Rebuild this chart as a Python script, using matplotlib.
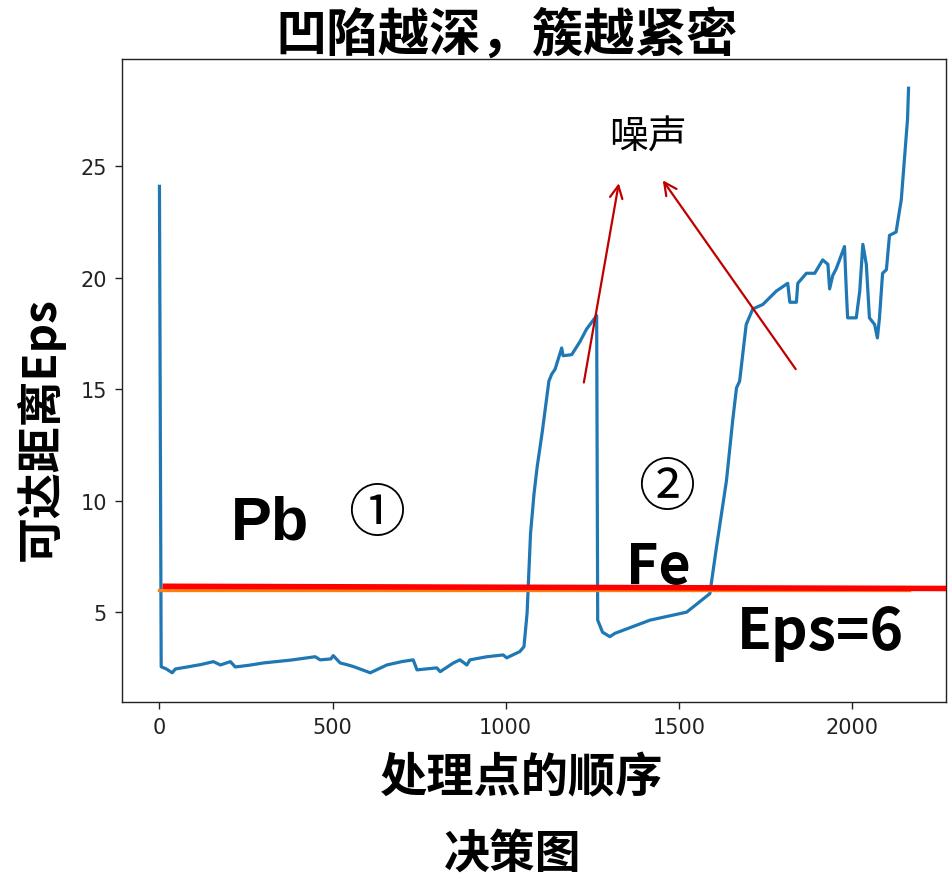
import matplotlib
matplotlib.use("Agg")
import matplotlib.pyplot as plt

plt.rcParams['font.family'] = ['Noto Sans CJK SC', 'DejaVu Sans']

# OPTICS reachability plot: processing order vs reachability distance
order = [0, 5, 20, 37, 46, 80, 120, 156, 176, 205, 219, 260, 300, 380, 450, 464,
         495, 502, 522, 540, 560, 609, 657, 700, 733, 744, 801, 811, 849, 868, 888,
         897, 946, 993, 1003, 1041, 1053, 1062, 1072, 1082, 1091, 1106, 1125, 1133,
         1143, 1162, 1166, 1191, 1215, 1234, 1263, 1266, 1280, 1301, 1316, 1417,
         1523, 1590, 1609, 1638, 1656, 1667, 1676, 1695, 1714, 1743, 1782, 1815,
         1821, 1840, 1844, 1869, 1893, 1916, 1931, 1936, 1945, 1955, 1979, 1984,
         1988, 2013, 2023, 2032, 2042, 2051, 2066, 2074, 2080, 2089, 2100, 2109,
         2128, 2143, 2152, 2161, 2164]
reach = [24.1, 2.55, 2.45, 2.28, 2.45, 2.54, 2.65, 2.78, 2.63, 2.78, 2.54, 2.62,
         2.72, 2.85, 3.0, 2.86, 2.9, 3.05, 2.72, 2.65, 2.56, 2.28, 2.63, 2.78, 2.86,
         2.41, 2.5, 2.33, 2.72, 2.86, 2.63, 2.86, 3.0, 3.08, 2.95, 3.23, 3.45, 4.95,
         8.53, 10.3, 11.5, 13.1, 15.36, 15.67, 15.9, 16.85, 16.5, 16.55, 17.14, 17.7,
         18.3, 4.64, 4.1, 3.9, 4.05, 4.64, 5.0, 5.83, 7.9, 10.9, 13.6, 15.06, 15.36,
         17.9, 18.6, 18.8, 19.4, 19.75, 18.9, 18.9, 19.75, 20.2, 20.2, 20.8, 20.6,
         19.5, 20.1, 20.4, 21.4, 19.5, 18.2, 18.2, 19.4, 21.5, 20.6, 18.2, 17.9, 17.3,
         18.2, 20.2, 20.36, 21.9, 22.05, 23.5, 25.3, 27.1, 28.5]

eps = 6
eps_marker_x = [9, 2290]
eps_marker_y = [6.16, 6.06]

# noise arrows: (tail_x, tail_y, head_x, head_y)
noise_arrows = [(1226, 15.3, 1327, 24.24),
                (1838, 15.9, 1454, 24.37)]

xticks = [0, 500, 1000, 1500, 2000]
yticks = [5, 10, 15, 20, 25]

W, H = 948, 878
fig = plt.figure(figsize=(W / 100, H / 100), dpi=100)
ax = fig.add_axes([122 / W, 1 - 703 / H, (946 - 122) / W, (703 - 60) / H])


def fx(px):
    return px / W


def fy(py):
    return 1 - py / H


ax.plot(order, reach, color='#1f77b4', lw=2.3, zorder=3)
ax.plot([order[0], order[-1]], [eps, eps], color='#ff7f0e', lw=2.4, zorder=3)

xr = max(order) - min(order)
yr = max(reach) - min(reach)
ax.set_xlim(min(order) - 0.05 * xr, max(order) + 0.05 * xr)
ax.set_ylim(min(reach) - 0.05 * yr, max(reach) + 0.05 * yr)

ax.plot(eps_marker_x, eps_marker_y, color='#ff0000', lw=4.0, zorder=5,
        solid_capstyle='butt')

for tx, ty, hx, hy in noise_arrows:
    ax.annotate('', xy=(hx, hy), xytext=(tx, ty),
                arrowprops=dict(arrowstyle='->,head_length=0.9,head_width=0.45',
                                color='#c00000', lw=1.6, shrinkA=0, shrinkB=0),
                zorder=5)

ax.set_xticks(xticks)
ax.set_yticks(yticks)
ax.tick_params(labelsize=15, length=5, width=1, pad=6, colors='#222222')
for lab in ax.get_xticklabels() + ax.get_yticklabels():
    lab.set_fontfamily('DejaVu Sans')
for s in ax.spines.values():
    s.set_linewidth(1.0)
    s.set_color('#222222')

# annotations inside the plot
tf = fig.transFigure
ax.text(fx(648), fy(138), '噪声', fontsize=28, fontweight='medium',
        ha='center', va='center', transform=tf, zorder=6)
ax.text(fx(270), fy(540), 'Pb', fontsize=44, fontweight='bold',
        family=['Liberation Sans', 'DejaVu Sans'], ha='center', va='baseline',
        transform=tf, zorder=6)
ax.text(fx(377), fy(515), '①', fontsize=41, ha='center', va='center',
        transform=tf, zorder=6)
ax.text(fx(667), fy(489), '②', fontsize=41, ha='center', va='center',
        transform=tf, zorder=6)
ax.text(fx(658), fy(584), 'Fe', fontsize=40, fontweight='bold',
        ha='center', va='baseline', transform=tf, zorder=4)
ax.text(fx(820), fy(650), 'Eps=6', fontsize=41, fontweight='bold',
        ha='center', va='baseline', transform=tf, zorder=6)

# titles and axis labels
t = fig.text(fx(507), fy(35), '凹陷越深，簇越紧密', fontsize=37, fontweight='heavy',
             ha='center', va='center')
t.set_zorder(-1)
fig.text(fx(40), fy(429), '可达距离Eps', fontsize=33, fontweight='bold',
         rotation=90, ha='center', va='center')
fig.text(fx(522), fy(778), '处理点的顺序', fontsize=34, fontweight='bold',
         ha='center', va='center')
fig.text(fx(513), fy(855), '决策图', fontsize=33, fontweight='bold',
         ha='center', va='center')

fig.savefig('out.png', dpi=100)
